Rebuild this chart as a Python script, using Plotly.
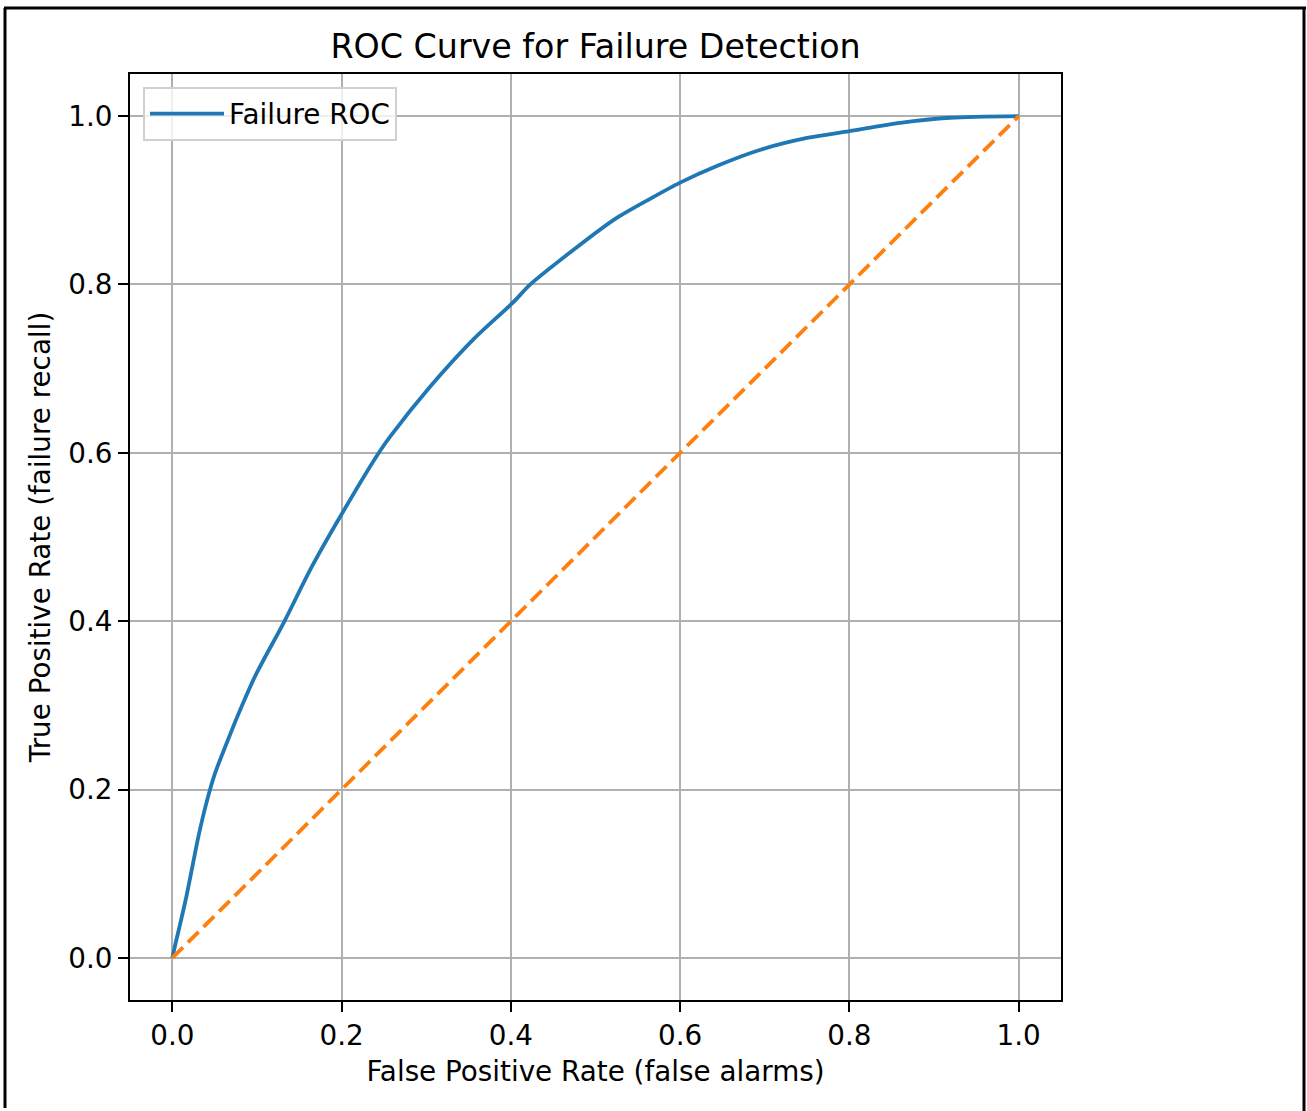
import plotly.graph_objects as go

# ROC curve values
fpr = [0.0, 0.004, 0.008, 0.016, 0.024, 0.031, 0.040, 0.050, 0.065, 0.077,
       0.098, 0.132, 0.165, 0.200, 0.244, 0.258, 0.305, 0.356, 0.402, 0.423,
       0.470, 0.522, 0.565, 0.600, 0.644, 0.695, 0.750, 0.800, 0.860, 0.919, 1.0]
tpr = [0.0, 0.018, 0.035, 0.070, 0.110, 0.145, 0.183, 0.218, 0.257, 0.287,
       0.335, 0.399, 0.465, 0.527, 0.600, 0.620, 0.679, 0.735, 0.778, 0.800,
       0.838, 0.877, 0.902, 0.921, 0.941, 0.960, 0.974, 0.982, 0.992, 0.998, 1.0]

chance_x = [0.0, 1.0]
chance_y = [0.0, 1.0]

tick_vals = [0.0, 0.2, 0.4, 0.6, 0.8, 1.0]
tick_text = ["0.0", "0.2", "0.4", "0.6", "0.8", "1.0"]

title_text = "ROC Curve for Failure Detection"
x_title = "False Positive Rate (false alarms)"
y_title = "True Positive Rate (failure recall)"
series_name = "Failure ROC"

FONT = "DejaVu Sans"
FS = 27.8

W, H = 1307, 1111
L, R, T, B = 130, 246, 74, 111
PW, PH = W - L - R, H - T - B


def px_x(p):
    return (p - L) / PW


def px_y(p):
    return (H - B - p) / PH


fig = go.Figure()
fig.add_trace(go.Scatter(x=fpr, y=tpr, mode="lines", name=series_name,
                         line=dict(color="#1f77b4", width=3.8, shape="spline", smoothing=0.8)))
fig.add_trace(go.Scatter(x=chance_x, y=chance_y, mode="lines", showlegend=False,
                         line=dict(color="#ff7f0e", width=3.8, dash="15px,7px")))

axis_common = dict(
    range=[-0.05, 1.05], tickvals=tick_vals, ticktext=tick_text,
    showgrid=True, gridcolor="#b0b0b0", gridwidth=2, zeroline=False,
    showline=True, linecolor="black", linewidth=2, mirror=True,
    ticks="outside", ticklen=10, tickwidth=2, tickcolor="black",
    tickfont=dict(family=FONT, size=FS, color="black"),
    automargin=False,
)
fig.update_xaxes(**axis_common, title=dict(text=x_title, standoff=10,
                                           font=dict(family=FONT, size=FS, color="black")))
fig.update_yaxes(**axis_common, title=dict(text=y_title, standoff=9,
                                           font=dict(family=FONT, size=FS, color="black")))

# outer frame of the picture
frame = dict(type="line", xref="paper", yref="paper", line=dict(color="black", width=3))
fig.add_shape(**frame, x0=px_x(4), x1=px_x(1306), y0=px_y(8), y1=px_y(8))
fig.add_shape(**frame, x0=px_x(5), x1=px_x(5), y0=px_y(8), y1=px_y(1108))
fig.add_shape(**frame, x0=px_x(1304), x1=px_x(1304), y0=px_y(8), y1=px_y(1111))

fig.update_layout(
    width=W, height=H,
    margin=dict(l=L, r=R, t=T, b=B, autoexpand=False),
    paper_bgcolor="white", plot_bgcolor="white",
    font=dict(family=FONT, size=FS, color="black"),
    title=dict(text=title_text, x=0.5, xref="paper", xanchor="center",
               y=1 - 46 / H, yref="container", yanchor="middle",
               font=dict(family=FONT, size=33.3, color="black")),
    legend=dict(x=px_x(143), y=px_y(87), xanchor="left", yanchor="top",
                bgcolor="rgba(255,255,255,0.8)", bordercolor="#d0d0d0", borderwidth=2,
                itemwidth=74, font=dict(family=FONT, size=FS, color="black")),
    showlegend=True,
)

fig.write_html("out.html")
